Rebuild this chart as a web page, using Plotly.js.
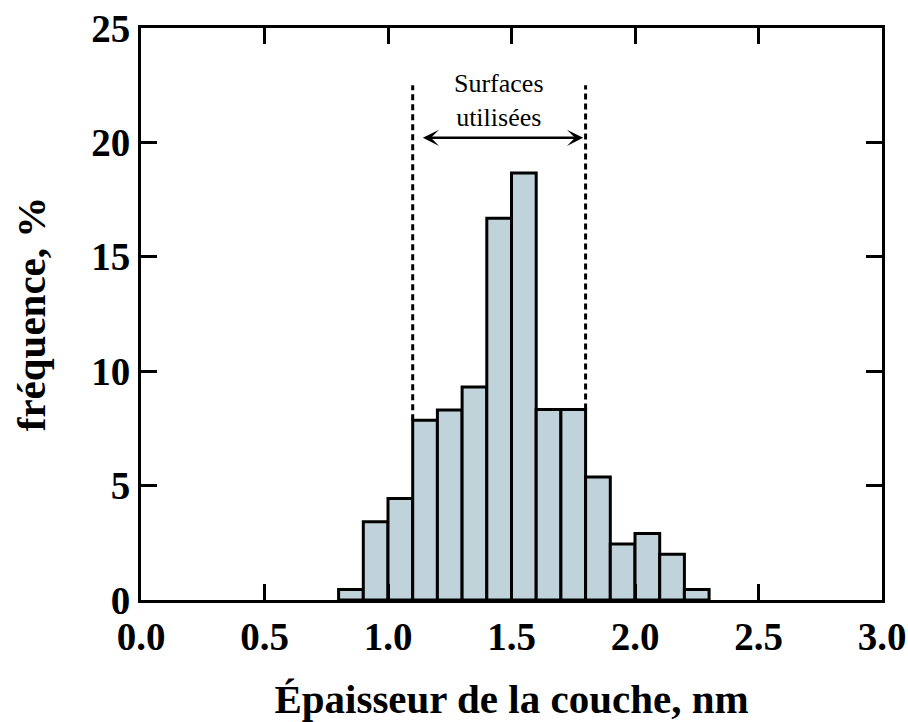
<!DOCTYPE html>
<html>
<head>
<meta charset="utf-8">
<script src="https://cdn.plot.ly/plotly-3.0.1.min.js"></script>
<style>
  html, body { margin: 0; padding: 0; background: #fff; }
  #chart { width: 908px; height: 722px; }
</style>
</head>
<body>
<div id="chart"></div>
<script>
// Bin start values (nm), bin width 0.1
const binStarts = [0.8, 0.9, 1.0, 1.1, 1.2, 1.3, 1.4, 1.5, 1.6, 1.7, 1.8, 1.9, 2.0, 2.1, 2.2];
// Frequency (%)
const frequency = [0.46, 3.42, 4.44, 7.86, 8.30, 9.31, 16.69, 18.66, 8.33, 8.33, 5.38, 2.45, 2.91, 2.0, 0.46];
const binWidth = 0.1;
// Limits of the "surfaces utilisées" region
const usedLimits = [1.1, 1.8];
const usedLimitBottoms = [7.86, 8.33];
const usedLimitTop = 22.5;
const annotationText = "Surfaces<br>utilisées";
const xTitle = "Épaisseur de la couche, nm";
const yTitle = "fréquence, %";

const binCenters = binStarts.map(b => +(b + binWidth / 2).toFixed(3));

const serifBold = { family: "Liberation Serif, Times New Roman, serif", size: 39, color: "#000", weight: "bold" };
const serifRegular = { family: "Liberation Serif, Times New Roman, serif", size: 26, color: "#000", weight: "normal" };

const traces = [
  {
    type: "bar",
    x: binCenters,
    y: frequency,
    width: binWidth,
    marker: { color: "#c0d2da", line: { color: "#000", width: 3 } },
    hoverinfo: "x+y",
    showlegend: false
  }
];
usedLimits.forEach((xv, i) => {
  traces.push({
    type: "scatter",
    mode: "lines",
    x: [xv, xv],
    y: [usedLimitBottoms[i], usedLimitTop],
    line: { color: "#000", width: 3, dash: "6px,4px" },
    hoverinfo: "skip",
    showlegend: false
  });
});

const layout = {
  width: 908,
  height: 722,
  margin: { l: 141, r: 26, t: 28, b: 122 },
  paper_bgcolor: "#fff",
  plot_bgcolor: "#fff",
  bargap: 0,
  font: serifBold,
  xaxis: {
    range: [0, 3],
    dtick: 0.5,
    tick0: 0,
    tickformat: ".1f",
    ticks: "inside",
    ticklen: 16,
    tickwidth: 3,
    tickcolor: "#000",
    showline: true,
    linecolor: "#000",
    linewidth: 3,
    mirror: "ticks",
    showgrid: false,
    zeroline: false,
    tickfont: serifBold,
    title: { text: xTitle, font: Object.assign({}, serifBold, { size: 41 }), standoff: 28 }
  },
  yaxis: {
    range: [0, 25],
    dtick: 5,
    ticks: "inside",
    ticklen: 16,
    tickwidth: 3,
    tickcolor: "#000",
    showline: true,
    linecolor: "#000",
    linewidth: 3,
    mirror: "ticks",
    showgrid: false,
    zeroline: false,
    tickfont: serifBold,
    title: { text: yTitle, font: Object.assign({}, serifBold, { size: 41 }), standoff: 33 }
  },
  annotations: [
    {
      x: 1.45, y: 21.85, xref: "x", yref: "y",
      text: annotationText,
      showarrow: false,
      font: serifRegular,
      align: "center"
    },
    {
      x: 1.79, y: 20.2, ax: 1.135, ay: 20.2,
      xref: "x", yref: "y", axref: "x", ayref: "y",
      text: "",
      showarrow: true,
      arrowside: "end+start",
      arrowhead: 3,
      startarrowhead: 3,
      arrowsize: 1.08,
      startarrowsize: 1.08,
      arrowwidth: 2.5,
      arrowcolor: "#000",
      standoff: 0,
      startstandoff: 0
    }
  ]
};

Plotly.newPlot("chart", traces, layout, { displayModeBar: false, staticPlot: true });
</script>
</body>
</html>
